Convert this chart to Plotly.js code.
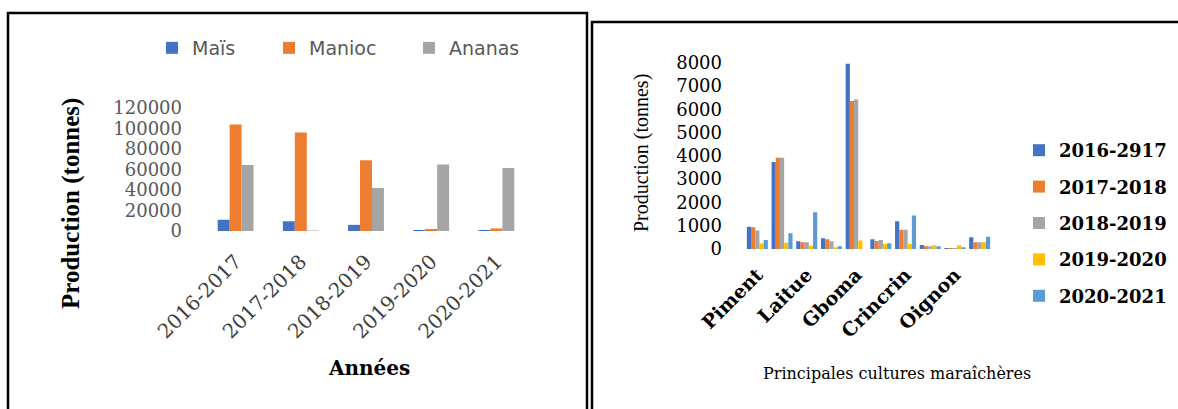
<!DOCTYPE html>
<html><head><meta charset="utf-8">
<script src="https://cdn.plot.ly/plotly-3.0.1.min.js"></script>
<style>html,body{margin:0;padding:0;background:#fff;} #chart{width:1178px;height:409px;}</style>
</head><body><div id="chart"></div>
<script>
// Left chart data
const years = ['2016-2017','2017-2018','2018-2019','2019-2020','2020-2021'];
const mais = [11000, 9500, 6000, 1000, 1000];
const manioc = [104000, 96000, 69000, 2000, 2500];
const ananas = [64500, 500, 42000, 65000, 61500];
const leftSeries = ['Maïs','Manioc','Ananas'];
const leftTicks = [0, 20000, 40000, 60000, 80000, 100000, 120000];

// Right chart data
const crops = ['Piment','Culture 2','Laitue','Culture 4','Gboma','Culture 6','Crincrin','Culture 8','Oignon','Culture 10'];
const cropLabels = ['Piment','Laitue','Gboma','Crincrin','Oignon'];
const seasons = ['2016-2917','2017-2018','2018-2019','2019-2020','2020-2021'];
const s2016 = [960, 3740, 330, 460, 7950, 420, 1190, 170, 40, 500];
const s2017 = [930, 3920, 290, 420, 6350, 345, 830, 115, 40, 290];
const s2018 = [790, 3920, 290, 330, 6420, 390, 830, 115, 40, 290];
const s2019 = [240, 270, 140, 70, 360, 215, 215, 160, 160, 290];
const s2020 = [390, 675, 1580, 115, 0, 245, 1440, 115, 70, 530];
const rightTicks = [0,1000,2000,3000,4000,5000,6000,7000,8000];

const W = 1178, H = 409;
const px = v => v / W;
const py = v => 1 - v / H;

const leftColors = ['#4472C4','#ED7D31','#A5A5A5'];
const rightColors = ['#4472C4','#ED7D31','#A5A5A5','#FFC000','#5B9BD5'];
const leftVals = [mais, manioc, ananas];
const rightVals = [s2016, s2017, s2018, s2019, s2020];

const bw = 0.55 / 3;
const leftOffsets = [-0.275, -0.275 + bw, -0.275 + 2 * bw];
const leftLegendW = [72, 95, null];

const traces = [];
leftSeries.forEach((name, i) => {
  const t = {
    type: 'bar', x: years, y: leftVals[i], name: name,
    xaxis: 'x', yaxis: 'y', legend: 'legend',
    marker: {color: leftColors[i]},
    width: bw, offset: leftOffsets[i]
  };
  if (leftLegendW[i]) t.legendwidth = leftLegendW[i];
  traces.push(t);
});
seasons.forEach((name, i) => {
  traces.push({
    type: 'bar', x: crops, y: rightVals[i], name: name,
    xaxis: 'x2', yaxis: 'y2', legend: 'legend2', legendgroup: 'g' + i,
    marker: {color: rightColors[i]}
  });
});

const layout = {
  width: W, height: H,
  margin: {l: 0, r: 0, t: 0, b: 0},
  paper_bgcolor: '#fff', plot_bgcolor: 'rgba(0,0,0,0)',
  barmode: 'group', bargap: 0.15, bargroupgap: 0,
  showlegend: true,
  xaxis: {
    domain: [px(203), px(529)], anchor: 'y', type: 'category',
    showgrid: false, zeroline: false, showline: false, ticks: '',
    tickangle: -45, ticklabelstandoff: 14,
    tickfont: {family: 'DejaVu Serif', size: 20, color: '#404040'}
  },
  yaxis: {
    domain: [py(231), py(108)], anchor: 'x', range: [0, 120000],
    tickvals: leftTicks, tickformat: 'd', separatethousands: false,
    showgrid: false, zeroline: false, showline: false, ticks: '',
    ticklabelstandoff: 20,
    tickfont: {family: 'DejaVu Serif', size: 18, color: '#595959'}
  },
  xaxis2: {
    domain: [px(745), px(992)], anchor: 'y2', type: 'category',
    showgrid: false, zeroline: false, showline: false, ticks: '',
    tickvals: cropLabels, tickangle: -45, ticklabelstandoff: 10,
    tickfont: {family: 'DejaVu Serif', size: 19, color: '#000', weight: 'bold'}
  },
  yaxis2: {
    domain: [py(249), py(62.7)], anchor: 'x2', range: [0, 8000],
    tickvals: rightTicks, tickformat: 'd',
    showgrid: false, zeroline: false, showline: false, ticks: '',
    ticklabelstandoff: 22,
    tickfont: {family: 'DejaVu Serif', size: 18, color: '#000'}
  },
  legend: {
    orientation: 'h', x: px(152), xanchor: 'left', y: py(48), yanchor: 'middle',
    font: {family: 'DejaVu Sans', size: 19, color: '#595959'},
    bgcolor: 'rgba(0,0,0,0)'
  },
  legend2: {
    orientation: 'v', x: px(1019), xanchor: 'left', y: py(132), yanchor: 'top',
    font: {family: 'DejaVu Serif', size: 18, color: '#000', weight: 'bold'},
    tracegroupgap: 10, bgcolor: 'rgba(0,0,0,0)'
  },
  annotations: [
    {text: '<b>Production (tonnes)</b>', x: px(71), y: py(204), xref: 'paper', yref: 'paper',
     textangle: -90, showarrow: false, xanchor: 'center', yanchor: 'middle',
     font: {family: 'Liberation Serif', size: 25, color: '#000'}},
    {text: '<b>Années</b>', x: px(369), y: py(368), xref: 'paper', yref: 'paper',
     showarrow: false, xanchor: 'center', yanchor: 'middle',
     font: {family: 'DejaVu Serif', size: 20, color: '#000'}},
    {text: 'Production (tonnes)', x: px(641), y: py(153), xref: 'paper', yref: 'paper',
     textangle: -90, showarrow: false, xanchor: 'center', yanchor: 'middle',
     font: {family: 'Liberation Serif', size: 20, color: '#000'}},
    {text: 'Principales cultures maraîchères', x: px(897), y: py(373), xref: 'paper', yref: 'paper',
     showarrow: false, xanchor: 'center', yanchor: 'middle',
     font: {family: 'DejaVu Serif', size: 16, color: '#000'}}
  ],
  shapes: [
    {type: 'rect', xref: 'paper', yref: 'paper', x0: px(8), x1: px(587), y0: py(415), y1: py(13),
     line: {color: '#000', width: 2.5}, fillcolor: 'rgba(0,0,0,0)'},
    {type: 'rect', xref: 'paper', yref: 'paper', x0: px(592), x1: px(1185), y0: py(415), y1: py(22),
     line: {color: '#000', width: 2.5}, fillcolor: 'rgba(0,0,0,0)'}
  ]
};

Plotly.newPlot('chart', traces, layout, {displayModeBar: false, staticPlot: true});
</script>
</body></html>
